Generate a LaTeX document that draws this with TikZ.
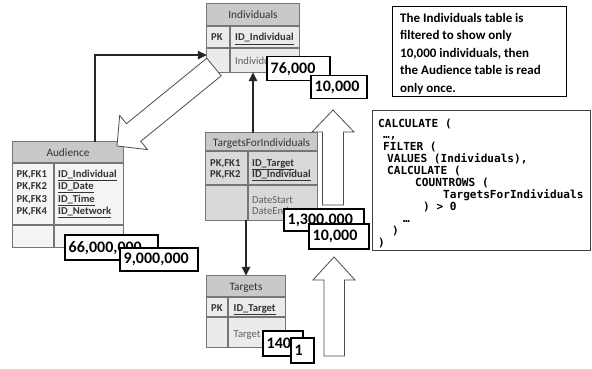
\documentclass[tikz,border=0pt]{standalone}
\usepackage{fontspec}
\setmainfont{Carlito}
\newfontfamily\codefont{DejaVu Sans Mono}
\usetikzlibrary{arrows.meta,calc,fit}

\definecolor{tblline}{HTML}{767676}
\definecolor{tblhead}{HTML}{C9C9C9}
\definecolor{bodylight}{HTML}{EBEBEB}
\definecolor{bodypale}{HTML}{F4F4F4}
\definecolor{bodymid}{HTML}{D9D9D9}
\definecolor{tbltext}{HTML}{333333}
\definecolor{attrtext}{HTML}{5E5E5E}

\tikzset{
  tblframe/.style={draw=tblline, line width=1.1pt},
  hdrtext/.style={font=\fontsize{11.3}{13}\selectfont, text=tbltext, inner sep=0pt, anchor=base},
  keytext/.style={font=\bfseries\fontsize{10.6}{12}\selectfont, text=tbltext, inner sep=0pt, anchor=base west},
  attrlabel/.style={font=\fontsize{10.6}{12}\selectfont, text=attrtext, inner sep=0pt, anchor=base west},
  rel/.style={draw=black!85, line width=1.3pt, -{Triangle[length=9pt,width=8.5pt]}},
  cntbox/.style={draw=black, line width=1.5pt, fill=white, inner sep=0pt, anchor=north west},
  cnttext/.style={font=\bfseries\fontsize{16}{18}\selectfont, inner sep=0pt, anchor=west},
  bigarrow/.style={draw=black!70, fill=white, line width=0.8pt, line join=miter},
  notebox/.style={draw=black, line width=1.4pt, fill=white, inner sep=0pt, anchor=north west},
  noteline/.style={font=\bfseries\fontsize{13}{16}\selectfont, inner sep=0pt, anchor=base west},
  codebox/.style={draw=black!75, line width=1pt, fill=white, inner sep=0pt, anchor=north west},
  codeline/.style={font=\codefont\bfseries\fontsize{11.1}{12}\selectfont, inner sep=0pt, anchor=base west},
}

% table: name, x1, y1, x2, y2, header bottom, key-row bottom, divider x, body colour
\newcommand\erdtable[9]{%
  \path (#2,#3) coordinate (#1-nw) (#4,#5) coordinate (#1-se);
  \node[fit=(#1-nw)(#1-se), inner sep=0pt, fill=#9] (#1) {};
  \fill[tblhead] (#1-nw) rectangle (#4,#6);
  \draw[tblframe] (#2,#6) -- (#4,#6) (#2,#7) -- (#4,#7) (#8,#6) -- (#8,#5);
  \draw[tblframe] (#1.north west) rectangle (#1.south east);
}

% row-count box: name, x1, y1, x2, y2, text
\newcommand\countbox[6]{%
  \node[cntbox, minimum width={(#4-#2)*1pt}, minimum height={(#5-#3)*1pt}] (#1) at (#2,#3) {};
  \node[cnttext] (#1-txt) at ($(#1.west)+(4.5,0.5)$) {#6};
}

\begin{document}
\begin{tikzpicture}[x=1pt,y=-1pt]
\useasboundingbox (0,0) rectangle (592,369);
\fill[white] (0,0) rectangle (592,369);

% ---- tables ----
\erdtable{ind}{207}{4}{299}{72}{26}{48}{230}{bodylight}
\node[hdrtext] (ind-h) at (253,19) {Individuals};
\node[keytext] (ind-pk) at (211,41) {PK};
\node[keytext] (ind-id) at (235,41) {\underline{ID\_Individual}};
\node[attrlabel] (ind-a) at (235,64.5) {Individu};

\erdtable{aud}{13}{142}{123}{247}{163}{225}{54}{bodypale}
\node[hdrtext] (aud-h) at (68,156.5) {Audience};
\node[keytext] (aud-k1) at (16.5,177) {PK,FK1};
\node[keytext] (aud-k2) at (16.5,189.5) {PK,FK2};
\node[keytext] (aud-k3) at (16.5,202) {PK,FK3};
\node[keytext] (aud-k4) at (16.5,214.5) {PK,FK4};
\node[keytext] (aud-i1) at (58,177) {\underline{ID\_Individual}};
\node[keytext] (aud-i2) at (58,189.5) {\underline{ID\_Date}};
\node[keytext] (aud-i3) at (58,202) {\underline{ID\_Time}};
\node[keytext] (aud-i4) at (58,214.5) {\underline{ID\_Network}};

\erdtable{tfi}{206}{133}{317}{220}{151}{185}{248}{bodymid}
\node[hdrtext] (tfi-h) at (261.5,146) {TargetsForIndividuals};
\node[keytext] (tfi-k1) at (210,166) {PK,FK1};
\node[keytext] (tfi-k2) at (210,177.5) {PK,FK2};
\node[keytext] (tfi-i1) at (252,166) {\underline{ID\_Target}};
\node[keytext] (tfi-i2) at (252,177.5) {\underline{ID\_Individual}};
\node[attrlabel] (tfi-a1) at (252,203) {DateStart};
\node[attrlabel] (tfi-a2) at (252,214.5) {DateEnd};

\erdtable{tgt}{207}{276}{285}{347}{297}{317}{228}{bodylight}
\node[hdrtext] (tgt-h) at (246,290.5) {Targets};
\node[keytext] (tgt-pk) at (211,311) {PK};
\node[keytext] (tgt-id) at (233.5,311) {\underline{ID\_Target}};
\node[attrlabel] (tgt-a) at (233.5,337) {Target};

% ---- relationships ----
\coordinate (aud-top) at ($(aud.north west)!0.745!(aud.north east)$);
\coordinate (ind-in) at ($(ind.north west)!0.75!(ind.south west)$);
\draw[rel] (aud-top) |- (ind-in);
\draw[rel] (tfi.north -| ind.south) -- (ind.south);
\draw[rel] (tfi.south -| tgt.north) -- (tgt.north);

% ---- hollow flow arrows ----
\path[bigarrow] (206.8,58.2) -- (221.2,75.8) -- (140.8,141.3) -- (147.5,149.6)
  -- (117,146) -- (119.7,115.4) -- (126.4,123.7) -- cycle;
\path[bigarrow] (322.5,205) -- (322.5,132) -- (312,132) -- (333,110) -- (354,132)
  -- (343.5,132) -- (343.5,205) -- cycle;
\path[bigarrow] (324,356) -- (324,280) -- (313,280) -- (334,257) -- (355,280)
  -- (344.5,280) -- (344.5,356) -- cycle;

% ---- row counts ----
\countbox{c-ind}{266}{56}{329}{80}{76,000}
\countbox{c-ind2}{310}{75}{366}{98}{10,000}
\countbox{c-aud}{64}{234}{157}{259}{66,000,000}
\countbox{c-aud2}{119}{247}{197}{270}{9,000,000}
\countbox{c-tfi}{283}{208}{363}{230}{1,300.000}
\countbox{c-tfi2}{308}{223}{368}{248}{10,000}
\countbox{c-tgt}{262}{330}{302}{355}{140}
\countbox{c-tgt2}{290}{337}{313}{362}{1}

% ---- explanation ----
\node[notebox, minimum width=174pt, minimum height=90pt] (note) at (392,6) {};
\node[noteline] (note-1) at (400,22.5) {The Individuals table is};
\node[noteline] (note-2) at (400,40) {filtered to show only};
\node[noteline] (note-3) at (400,57.5) {10,000 individuals, then};
\node[noteline] (note-4) at (400,75) {the Audience table is read};
\node[noteline] (note-5) at (400,92.5) {only once.};

% ---- DAX query ----
\node[codebox, minimum width=218pt, minimum height=140pt] (code) at (372,110) {};
\foreach \dx/\txt [count=\i] in {0/{CALCULATE (}, 5/{…,}, 5/{FILTER (},
    9/{VALUES (Individuals),}, 9/{CALCULATE (}, 37/{COUNTROWS (},
    65/{TargetsForIndividuals}, 45/{) > 0}, 25/{…}, 14/{)}, 0/{)}}
  \node[codeline] (code-\i) at ({378+\dx},{115.1+11.9*\i}) {\txt};
\end{tikzpicture}
\end{document}
